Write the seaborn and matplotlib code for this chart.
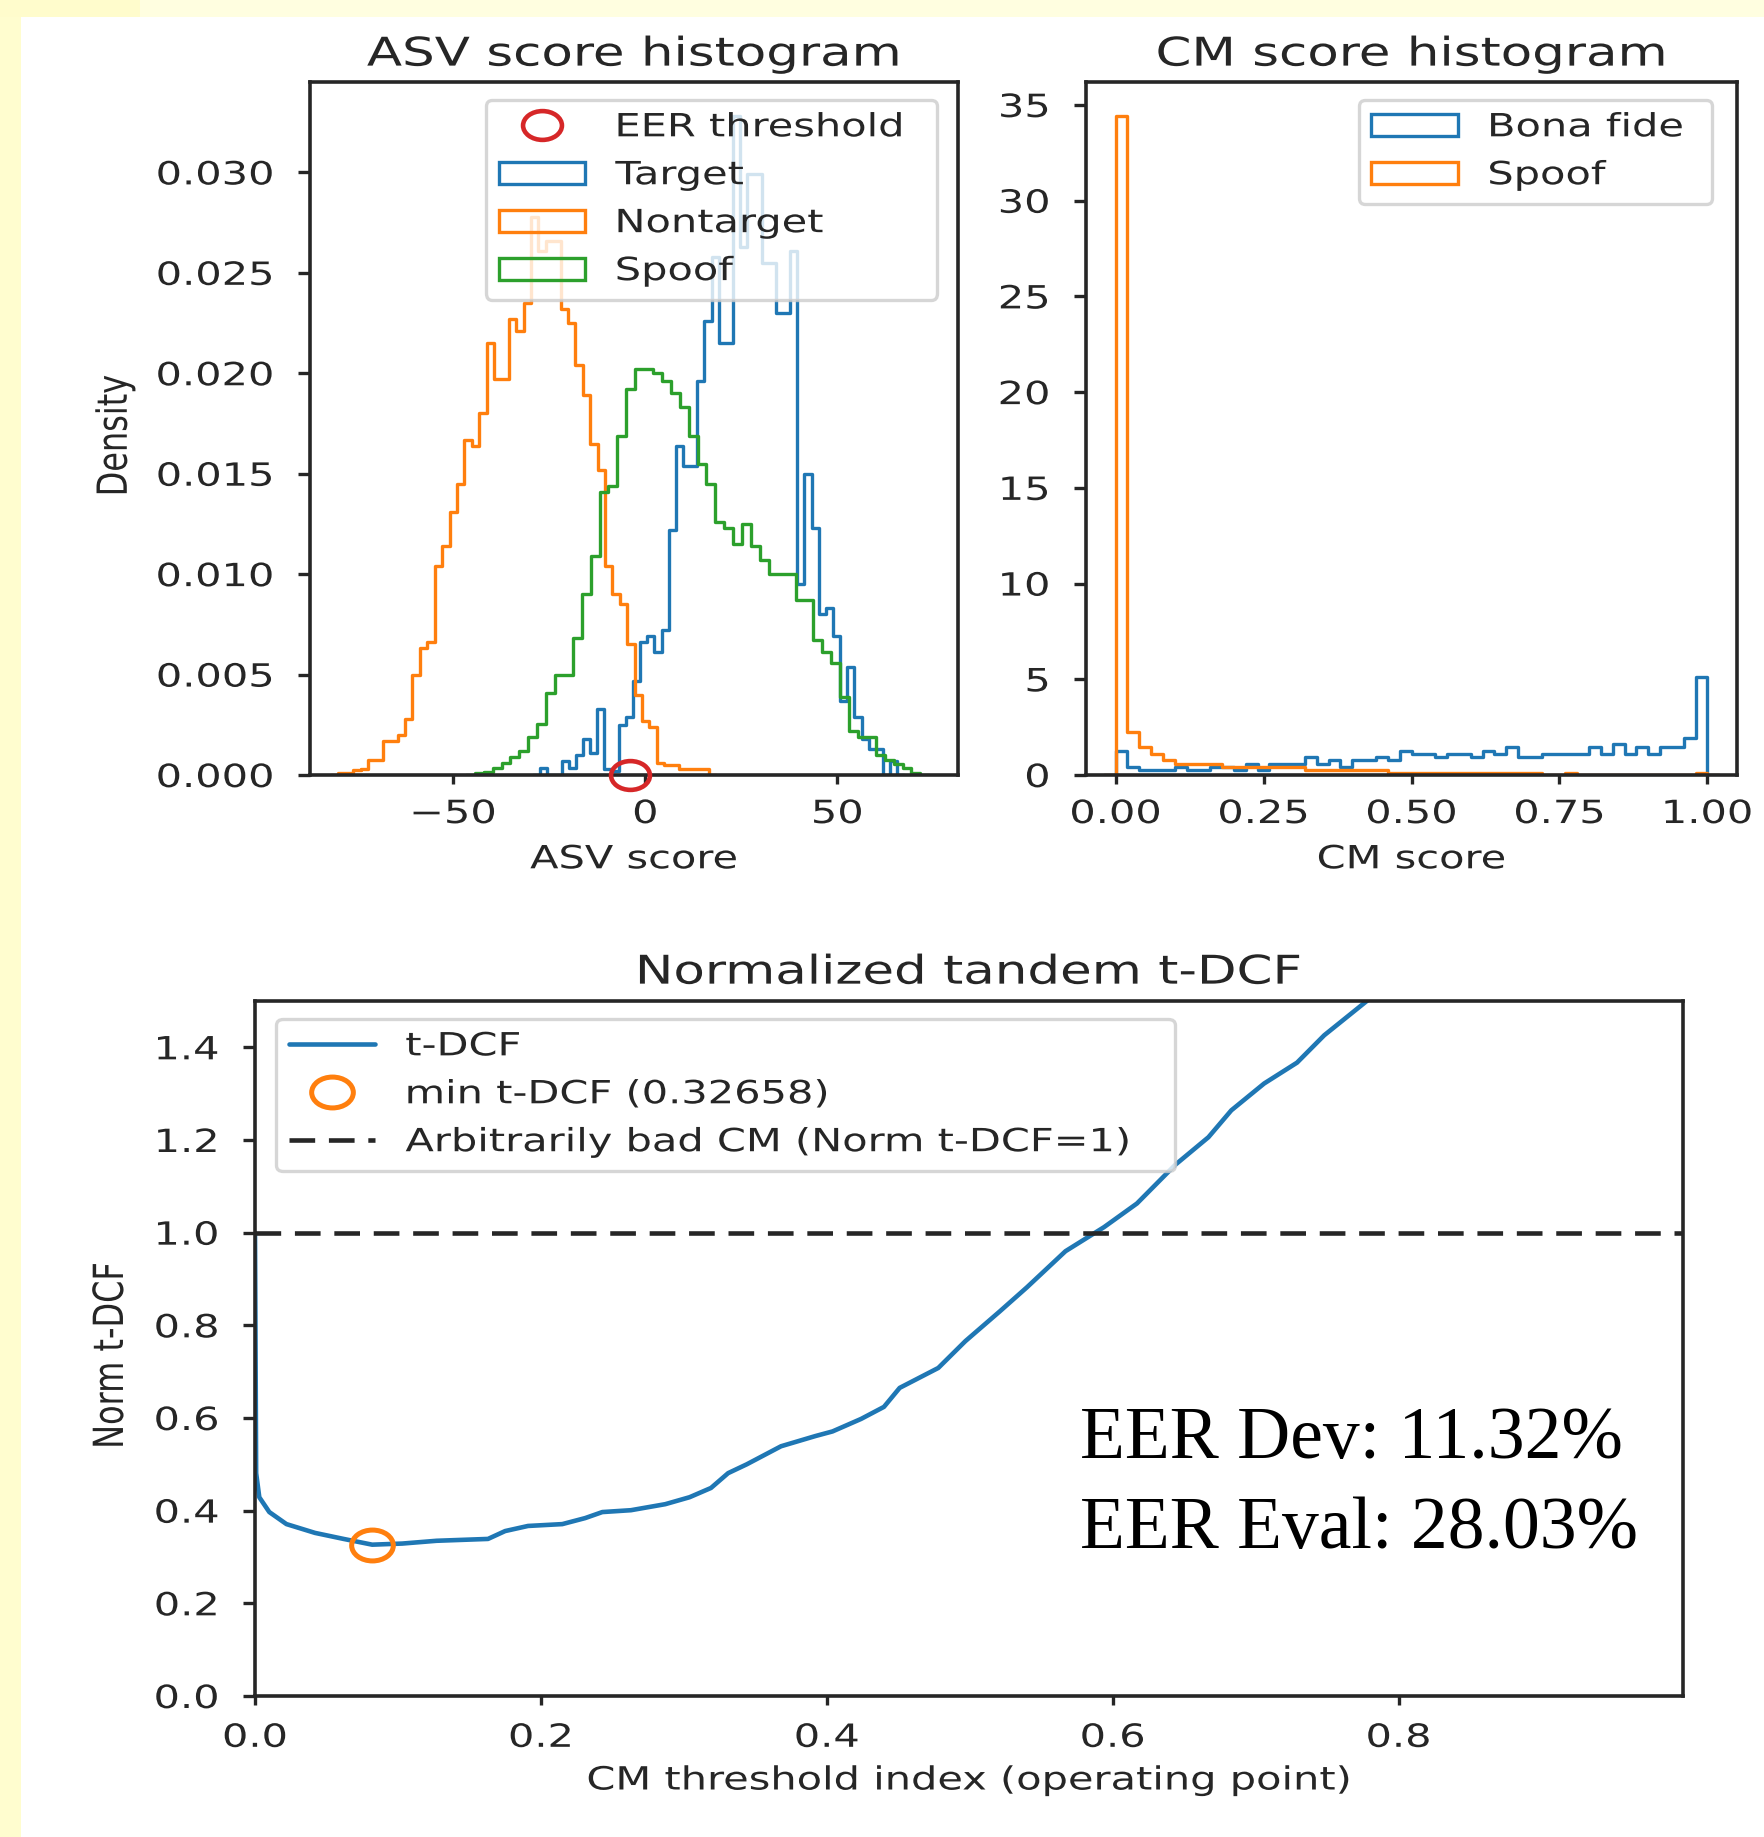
import numpy as np
import pandas as pd
import seaborn as sns
import matplotlib.pyplot as plt
from matplotlib.path import Path
from matplotlib.lines import Line2D
from matplotlib.patches import Patch, Rectangle
from matplotlib.patheffects import AbstractPathEffect
from matplotlib.transforms import Affine2D

# ---------- data ----------
# ASV score histograms: 50 bins between the given range, density per bin
tar_range = (-27.4, 65.6)
tar_density = [
    0.00036, 0.0, 0.0, 0.0007, 0.00036, 0.001, 0.0018, 0.0011, 0.0033, 0.0003,
    0.0002, 0.0025, 0.0029, 0.0047, 0.0066, 0.0069, 0.0061, 0.0072, 0.0122, 0.0164,
    0.0154, 0.0154, 0.0196, 0.0226, 0.0258, 0.0215, 0.0215, 0.0328, 0.0263, 0.0299,
    0.0299, 0.0255, 0.0255, 0.023, 0.023, 0.0261, 0.0095, 0.015, 0.0123, 0.008,
    0.0083, 0.0069, 0.0037, 0.0054, 0.0029, 0.0018, 0.0013, 0.0013, 0.0, 0.0007,
]
non_range = (-79.9, 16.5)
non_density = [
    0.0001, 0.0001, 0.00027, 0.0003, 0.00075, 0.00075, 0.0017, 0.0017, 0.002, 0.0028,
    0.005, 0.0063, 0.0066, 0.0104, 0.0114, 0.0131, 0.0145, 0.0167, 0.0164, 0.018,
    0.0215, 0.0197, 0.0197, 0.0227, 0.0221, 0.0235, 0.0278, 0.0261, 0.0266, 0.0266,
    0.0232, 0.0225, 0.0204, 0.0189, 0.0165, 0.0152, 0.0104, 0.009, 0.0085, 0.0065,
    0.004, 0.0027, 0.0024, 0.0006, 0.0005, 0.0005, 0.0003, 0.0003, 0.0003, 0.0003,
]
spoof_asv_range = (-44.4, 71.6)
spoof_asv_density = [
    0.00012, 0.00015, 0.00036, 0.00058, 0.00089, 0.00117, 0.00188, 0.00255, 0.0041, 0.005,
    0.005, 0.0068, 0.009, 0.0109, 0.0141, 0.0144, 0.0169, 0.0192, 0.0202, 0.0202,
    0.02, 0.0196, 0.019, 0.0183, 0.0169, 0.0155, 0.0145, 0.0126, 0.0123, 0.0115,
    0.0125, 0.0114, 0.0107, 0.01, 0.01, 0.01, 0.0087, 0.0087, 0.0067, 0.0061,
    0.0056, 0.0039, 0.0022, 0.0019, 0.0019, 0.001, 0.00077, 0.00053, 0.00034, 0.0001,
]
eer_asv_threshold = -3.9

# CM score histograms
cm_range = (0.0, 1.0)
bona_cm_density = [
    1.25, 0.43, 0.26, 0.26, 0.26, 0.43, 0.26, 0.26, 0.43, 0.43,
    0.26, 0.6, 0.26, 0.6, 0.6, 0.6, 0.92, 0.6, 0.78, 0.43,
    0.78, 0.78, 0.92, 0.78, 1.25, 1.1, 1.1, 0.92, 1.1, 1.1,
    0.92, 1.25, 1.1, 1.45, 0.92, 0.92, 1.1, 1.1, 1.1, 1.1,
    1.45, 1.1, 1.62, 1.1, 1.45, 1.1, 1.45, 1.45, 1.92, 5.1,
]
spoof_cm_density = [
    34.4, 2.25, 1.45, 1.1, 0.78, 0.6, 0.6, 0.6, 0.6, 0.43,
    0.43, 0.43, 0.43, 0.43, 0.43, 0.43, 0.26, 0.26, 0.26, 0.26,
    0.26, 0.26, 0.26, 0.09, 0.09, 0.09, 0.09, 0.09, 0.09, 0.09,
    0.09, 0.09, 0.09, 0.09, 0.09, 0.09, 0.0, 0.0, 0.09, 0.0,
    0.0, 0.0, 0.0, 0.0, 0.0, 0.0, 0.0, 0.0, 0.0, 0.09,
]

# normalized tandem t-DCF curve
tdcf_x = [0.0, 0.0008, 0.003, 0.010, 0.022, 0.042, 0.062, 0.082, 0.103, 0.127,
          0.163, 0.175, 0.191, 0.215, 0.231, 0.243, 0.263, 0.287, 0.304, 0.319,
          0.331, 0.344, 0.368, 0.392, 0.404, 0.424, 0.440, 0.451, 0.478, 0.497,
          0.521, 0.540, 0.567, 0.594, 0.617, 0.644, 0.667, 0.683, 0.706, 0.729,
          0.748, 0.779]
tdcf_y = [1.0, 0.481, 0.429, 0.397, 0.371, 0.352, 0.339, 0.3266, 0.329, 0.335,
          0.339, 0.356, 0.367, 0.371, 0.384, 0.397, 0.401, 0.414, 0.429, 0.449,
          0.481, 0.500, 0.539, 0.561, 0.571, 0.598, 0.624, 0.665, 0.708, 0.766,
          0.830, 0.882, 0.960, 1.012, 1.063, 1.147, 1.206, 1.264, 1.322, 1.367,
          1.426, 1.503]
min_tdcf_x = 0.082
min_tdcf = 0.32658

eer_names = ['Dev', 'Eval']
eer_values = [11.32, 28.03]

# ---------- style ----------
BLUE, ORANGE, GREEN, RED = '#1f77b4', '#ff7f0e', '#2ca02c', '#d62728'
FS, TFS = 23, 28.5
SX = 1.3          # the reference is stretched sideways
HIST_LW = 2.4

sns.set_style('ticks')
plt.rcParams['font.family'] = ['DejaVu Sans']
plt.rcParams.update({
    'font.size': FS,
    'axes.titlesize': TFS,
    'axes.labelsize': FS,
    'xtick.labelsize': FS,
    'ytick.labelsize': FS,
    'axes.linewidth': 2.6,
    'axes.edgecolor': '#262626',
})


class HStretch(AbstractPathEffect):
    """draw text paths stretched horizontally around an anchor"""

    def __init__(self, sx, anchor='center'):
        super().__init__()
        self.sx = sx
        self.anchor = anchor

    def draw_path(self, renderer, gc, tpath, affine, rgbFace=None):
        bb = tpath.get_extents(affine)
        if self.anchor == 'left':
            x0 = bb.x0
        elif self.anchor == 'right':
            x0 = bb.x1
        else:
            x0 = (bb.x0 + bb.x1) / 2
        st = affine + Affine2D().translate(-x0, 0).scale(self.sx, 1).translate(x0, 0)
        renderer.draw_path(gc, tpath, st, rgbFace)


circ = Path.unit_circle()
ellipse = Path(circ.vertices * [1.35, 1.0], circ.codes)

W, H = 1765, 1837
fig = plt.figure(figsize=(W / 100, H / 100), dpi=100)
fig.add_artist(Rectangle((0, 0), 21 / W, 1, transform=fig.transFigure,
                         facecolor='#fffdcf', edgecolor='none', zorder=-5))
fig.add_artist(Rectangle((0, 1 - 17 / H), 1, 17 / H, transform=fig.transFigure,
                         facecolor='#fffee0', edgecolor='none', zorder=-5))
fig.add_artist(Rectangle((0, 1 - 17 / H), 140 / W, 17 / H, transform=fig.transFigure,
                         facecolor='#fffccc', edgecolor='none', zorder=-4))


def px_axes(l, t, r, b):
    return fig.add_axes([l / W, 1 - b / H, (r - l) / W, (b - t) / H])


def step_hist(ax, rng, dens, color):
    edges = np.linspace(rng[0], rng[1], len(dens) + 1)
    w = edges[1] - edges[0]
    # empty bin on each side so the outline drops to zero like hist(histtype='step')
    edges = np.concatenate([[edges[0] - w], edges, [edges[-1] + w]])
    df = pd.DataFrame({
        'score': (edges[:-1] + edges[1:]) / 2,
        'density': np.concatenate([[0.0], dens, [0.0]]),
    })
    sns.histplot(data=df, x='score', weights='density', bins=edges.tolist(),
                 element='step', fill=False, color=color, linewidth=HIST_LW, ax=ax)


ax1 = px_axes(310, 82, 958, 775)
ax2 = px_axes(1086, 82, 1737, 775)
ax3 = px_axes(255, 1001, 1683, 1696)

# ---------- ASV histogram ----------
step_hist(ax1, tar_range, tar_density, BLUE)
step_hist(ax1, non_range, non_density, ORANGE)
step_hist(ax1, spoof_asv_range, spoof_asv_density, GREEN)
ax1.plot([eer_asv_threshold], [0], ls='none', marker=ellipse, ms=28, mfc='none',
         mec=RED, mew=3.3, clip_on=False, zorder=5)
ax1.set_xlim(-87.3, 81.4)
ax1.set_ylim(0, 0.0345)
ax1.set_xticks([-50, 0, 50])
ax1.set_yticks([0, 0.005, 0.01, 0.015, 0.02, 0.025, 0.03])
ax1.set_title('ASV score histogram', pad=11.8)
ax1.set_xlabel('ASV score')
ax1.set_ylabel('Density')

hist_kw = dict(facecolor='none', lw=HIST_LW)
leg_kw = dict(loc='upper left', mode='expand', borderaxespad=0, handlelength=2.7,
              handleheight=0.7, handletextpad=0.95, labelspacing=0.53, borderpad=0.4,
              fontsize=FS, frameon=True, fancybox=True, framealpha=0.8, edgecolor='0.8')
ax1.legend([Line2D([], [], ls='none', marker=ellipse, ms=28, mfc='none', mec=RED, mew=3.3),
            Patch(edgecolor=BLUE, **hist_kw), Patch(edgecolor=ORANGE, **hist_kw),
            Patch(edgecolor=GREEN, **hist_kw)],
           ['EER threshold', 'Target', 'Nontarget', 'Spoof'],
           bbox_to_anchor=(0.2716, 0, 0.696, 0.9747), **leg_kw)

# ---------- CM histogram ----------
step_hist(ax2, cm_range, bona_cm_density, BLUE)
step_hist(ax2, cm_range, spoof_cm_density, ORANGE)
ax2.set_xlim(-0.05, 1.05)
ax2.set_ylim(0, 36.2)
ax2.set_xticks([0, 0.25, 0.5, 0.75, 1.0])
ax2.set_yticks([0, 5, 10, 15, 20, 25, 30, 35])
ax2.set_title('CM score histogram', pad=11.8)
ax2.set_xlabel('CM score')
ax2.set_ylabel('')
ax2.legend([Patch(edgecolor=BLUE, **hist_kw), Patch(edgecolor=ORANGE, **hist_kw)],
           ['Bona fide', 'Spoof'],
           bbox_to_anchor=(0.4187, 0, 0.5433, 0.9747), **leg_kw)

# ---------- t-DCF curve ----------
sns.lineplot(x=tdcf_x, y=tdcf_y, color=BLUE, lw=3.3, sort=False, ax=ax3)
ax3.plot([min_tdcf_x], [min_tdcf], ls='none', marker=ellipse, ms=30, mfc='none',
         mec=ORANGE, mew=3.6, zorder=5)
ax3.axhline(1.0, color='#262626', lw=3.3, dashes=(5.6, 3.0))
ax3.set_xlim(0, 0.999)
ax3.set_ylim(0, 1.5)
ax3.set_xticks([0, 0.2, 0.4, 0.6, 0.8])
ax3.set_yticks([0, 0.2, 0.4, 0.6, 0.8, 1.0, 1.2, 1.4])
ax3.set_title('Normalized tandem t-DCF', pad=12.5)
ax3.set_xlabel('CM threshold index (operating point)')
ax3.set_ylabel('Norm t-DCF')
ax3.legend([Line2D([], [], color=BLUE, lw=3.3),
            Line2D([], [], ls='none', marker=ellipse, ms=30, mfc='none', mec=ORANGE, mew=3.6),
            Line2D([], [], color='#262626', lw=3.3, dashes=(5.6, 3.0))],
           ['t-DCF', f'min t-DCF ({min_tdcf:.5f})', 'Arbitrarily bad CM (Norm t-DCF=1)'],
           bbox_to_anchor=(0.0148, 0, 0.6292, 0.9747), **leg_kw)

# ---------- ticks, labels ----------
for ax in (ax1, ax2, ax3):
    ax.tick_params(axis='x', length=6.8, width=2.4, pad=10.5)
    ax.tick_params(axis='y', length=8.4, width=2.4, pad=17.5)
    ax.xaxis.set_label_coords(0.5, -0.10)
    leg = ax.get_legend()
    leg.get_frame().set_linewidth(2.4)
ax3.tick_params(axis='x', pad=12.5)
ax1.yaxis.set_label_coords(-0.276, 0.49)
ax3.yaxis.set_label_coords(-0.09, 0.49)

for ax in (ax1, ax2, ax3):
    ax.title.set_path_effects([HStretch(SX)])
    ax.xaxis.label.set_path_effects([HStretch(SX)])
    ax.yaxis.label.set_path_effects([HStretch(SX)])
    for t in ax.get_xticklabels():
        t.set_path_effects([HStretch(SX)])
    for t in ax.get_yticklabels():
        t.set_path_effects([HStretch(SX, 'right')])
    for t in ax.get_legend().get_texts():
        t.set_path_effects([HStretch(SX, 'left')])

# EER summary, set in a serif face
for i, (name, val) in enumerate(zip(eer_names, eer_values)):
    fig.text(1080 / W, 1 - (1458 + 90 * i) / H, f'EER {name}: {val:.2f}%',
             family='Liberation Serif', fontsize=53, color='black', va='baseline')

fig.savefig('out.png', dpi=100)
